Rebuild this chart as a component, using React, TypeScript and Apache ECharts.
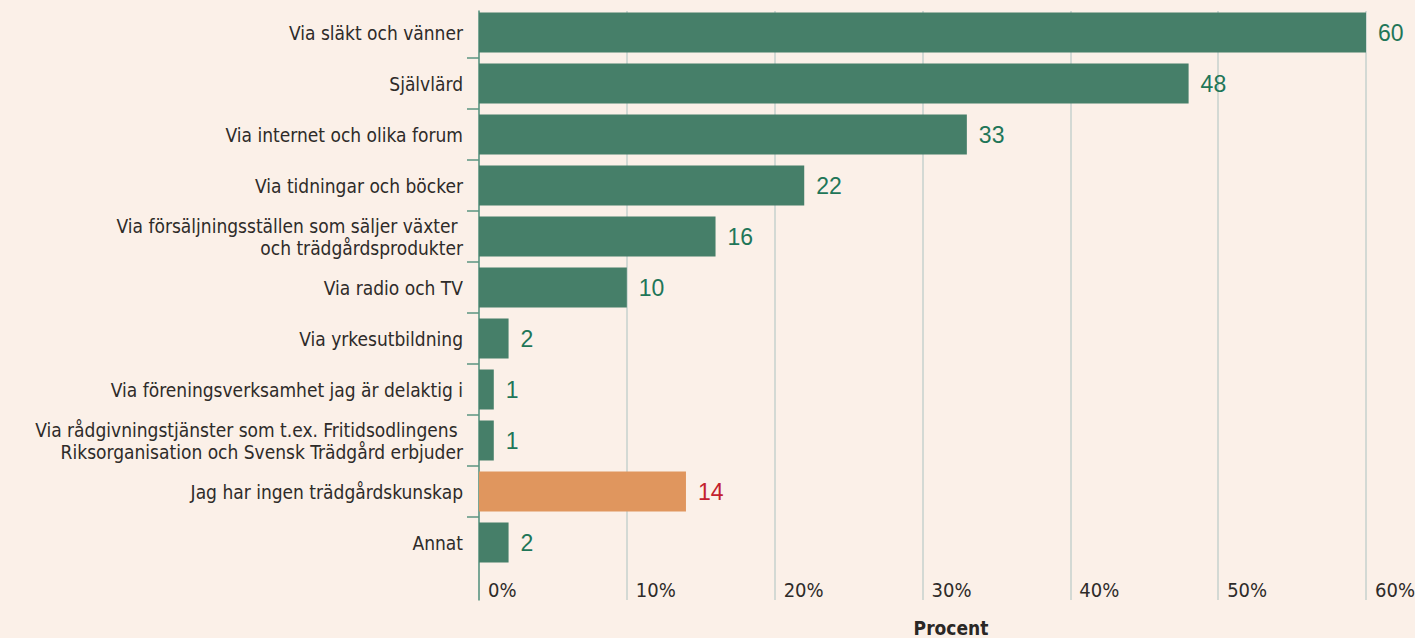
import React, { useEffect, useRef } from "react";
import * as echarts from "echarts";

const categories = [
  "Via släkt och vänner",
  "Självlärd",
  "Via internet och olika forum",
  "Via tidningar och böcker",
  "Via försäljningsställen som säljer växter \noch trädgårdsprodukter",
  "Via radio och TV",
  "Via yrkesutbildning",
  "Via föreningsverksamhet jag är delaktig i",
  "Via rådgivningstjänster som t.ex. Fritidsodlingens \nRiksorganisation och Svensk Trädgård erbjuder",
  "Jag har ingen trädgårdskunskap",
  "Annat",
];
const values = [60, 48, 33, 22, 16, 10, 2, 1, 1, 14, 2];
const highlighted = [false, false, false, false, false, false, false, false, false, true, false];
const axisMin = 0;
const axisMax = 60;
const axisStep = 10;
const axisTitle = "Procent";

const GREEN = "#467f69";
const ORANGE = "#e0965e";
const GREEN_TEXT = "#1f7658";
const RED_TEXT = "#c3202e";
const BG = "#fbf0e8";
const FONT = "'DejaVu Sans Condensed', 'Liberation Sans Narrow', sans-serif";

export default function App() {
  const ref = useRef<HTMLDivElement>(null);
  useEffect(() => {
    document.body.style.margin = "0";
    document.body.style.background = BG;
    if (!ref.current) return;
    const chart = echarts.init(ref.current, undefined, { renderer: "svg" });
    const W = 1415;
    const H = 638;
    const left = 479;
    const right = W - 1366;
    const band = 51;
    const barTop = 7;
    const n = categories.length;

    chart.setOption({
      animation: false,
      backgroundColor: BG,
      grid: [
        { left, right, top: barTop, height: band * n, containLabel: false, outerBoundsMode: "none" },
        { left, right, top: 11, bottom: H - 600, containLabel: false, outerBoundsMode: "none" },
        { left, right, top: barTop + band, height: band * (n - 2), containLabel: false, outerBoundsMode: "none" },
      ],
      xAxis: [
        { gridIndex: 0, type: "value", min: axisMin, max: axisMax, show: false },
        {
          gridIndex: 1,
          type: "value",
          min: axisMin,
          max: axisMax,
          interval: axisStep,
          axisLine: { show: false },
          axisTick: { show: false },
          splitLine: { show: true, lineStyle: { color: "#c6d2ce", width: 1.5 } },
          axisLabel: {
            inside: true,
            align: "left",
            verticalAlign: "middle",
            margin: 10,
            padding: [0, 0, 0, 9],
            color: "#2e2b29",
            fontFamily: FONT,
            fontSize: 20,
            formatter: (v: number) => `${v}%`,
          },
        },
        { gridIndex: 2, type: "value", min: 0, max: 1, show: false },
      ],
      yAxis: [
        {
          gridIndex: 0,
          type: "category",
          inverse: true,
          data: categories,
          axisLine: { show: false },
          axisTick: { show: false },
          axisLabel: {
            margin: 16,
            color: "#2e2b29",
            fontFamily: FONT,
            fontSize: 19,
            lineHeight: 22,
            align: "right",
          },
        },
        {
          gridIndex: 1,
          type: "value",
          min: 0,
          max: 1,
          axisLine: { show: true, lineStyle: { color: "#5b9580", width: 1.5 } },
          axisTick: { show: false },
          axisLabel: { show: false },
          splitLine: { show: false },
        },
        {
          gridIndex: 2,
          type: "value",
          inverse: true,
          min: 1,
          max: n - 1,
          interval: 1,
          axisLine: { show: false },
          axisTick: { show: true, length: 12, lineStyle: { color: "#5b9580", width: 1.5 } },
          axisLabel: { show: false },
          splitLine: { show: false },
        },
      ],
      series: [
        {
          type: "bar",
          xAxisIndex: 0,
          yAxisIndex: 0,
          barWidth: 40,
          z: 3,
          data: values.map((v, i) => ({
            value: v,
            itemStyle: { color: highlighted[i] ? ORANGE : GREEN },
            label: { color: highlighted[i] ? RED_TEXT : GREEN_TEXT },
          })),
          label: {
            show: true,
            position: "right",
            distance: 12,
            fontFamily: "'Liberation Sans', sans-serif",
            fontSize: 23,
          },
        },
      ],
      graphic: [
        {
          type: "text",
          x: 951,
          y: 628,
          style: {
            text: axisTitle,
            fontFamily: FONT,
            fontSize: 19,
            fontWeight: "bold",
            fill: "#2a2725",
            align: "center",
            verticalAlign: "middle",
          },
        },
      ],
    });
    return () => chart.dispose();
  }, []);
  return <div ref={ref} style={{ width: 1415, height: 638 }} />;
}
